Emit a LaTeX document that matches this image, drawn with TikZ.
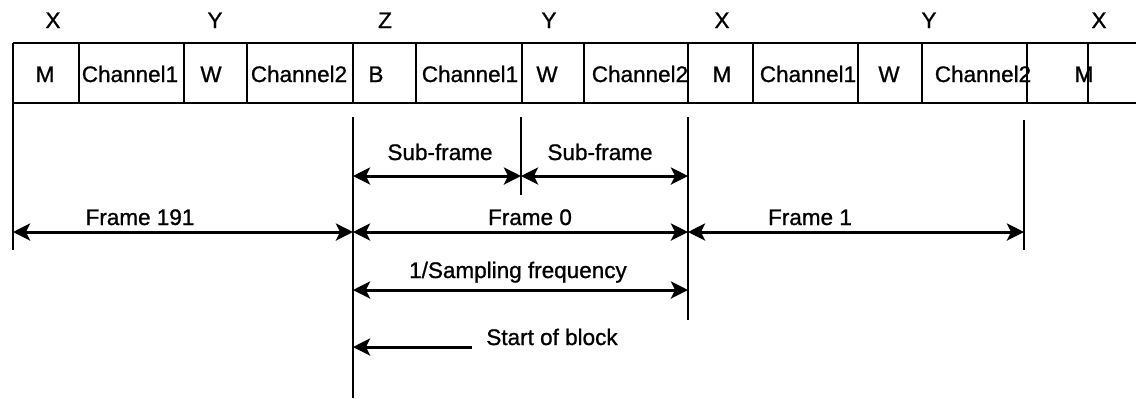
\documentclass[tikz,border=0pt]{standalone}
\usepackage{fontspec}
\setmainfont{Liberation Sans}[UprightFeatures={FakeBold=1}]
\usetikzlibrary{arrows.meta}
\begin{document}
\begin{tikzpicture}[x=0.5pt,y=-0.5pt,line width=1.3pt,
  lbl/.style={font=\fontsize{11.25}{13}\selectfont,inner sep=0pt,anchor=base},
  tip/.tip={Stealth[length=8.5pt,width=8.5pt,inset=2pt]},
  dim/.style={tip-tip,line width=1.5pt},
  one/.style={tip-,line width=1.5pt}]
\useasboundingbox (0,0) rectangle (1136,398);
% frame row
\draw (13,43) -- (1136,43);
\draw (13,103) -- (1136,103);
\foreach \x in {79,184,247,353,416,522,584,688,753,858,922,1027,1088}
  \draw (\x,43) -- (\x,103);
% top labels
\node[lbl] (tx1) at (53,28) {X};
\node[lbl] (ty1) at (215,28) {Y};
\node[lbl] (tz)  at (385,28) {Z};
\node[lbl] (ty2) at (549,28) {Y};
\node[lbl] (tx2) at (722,28) {X};
\node[lbl] (ty3) at (929,28) {Y};
\node[lbl] (tx3) at (1099,28) {X};
% cell texts
\node[lbl] (c1)  at (45,82) {M};
\node[lbl] (c2)  at (130,82) {Channel1};
\node[lbl] (c3)  at (211,82) {W};
\node[lbl] (c4)  at (299,82) {Channel2};
\node[lbl] (c5)  at (376,82) {B};
\node[lbl] (c6)  at (470,82) {Channel1};
\node[lbl] (c7)  at (547,82) {W};
\node[lbl] (c8)  at (640,82) {Channel2};
\node[lbl] (c9)  at (722,82) {M};
\node[lbl] (c10) at (808,82) {Channel1};
\node[lbl] (c11) at (889,82) {W};
\node[lbl] (c12) at (983,82) {Channel2};
\node[lbl] (c13) at (1084,82) {M};
% vertical markers
\coordinate (L0) at (13,43);   \coordinate (L0b) at (13,250);
\coordinate (A0) at (353,117); \coordinate (A0b) at (353,398);
\coordinate (S0) at (521,117); \coordinate (S0b) at (521,195);
\coordinate (B0) at (688,117); \coordinate (B0b) at (688,320);
\coordinate (C0) at (1024,120);\coordinate (C0b) at (1024,250);
\draw (L0) -- (L0b);
\draw (A0) -- (A0b);
\draw (S0) -- (S0b);
\draw (B0) -- (B0b);
\draw (C0) -- (C0b);
% sub-frame arrows
\coordinate (sf1) at (353,176); \coordinate (sf2) at (521,176); \coordinate (sf3) at (688,176);
\draw[dim] (sf1) -- (sf2);
\draw[dim] (sf2) -- (sf3);
\node[lbl] (sub1) at (440,160) {Sub-frame};
\node[lbl] (sub2) at (600,160) {Sub-frame};
% frame arrows
\coordinate (fr0) at (13,232); \coordinate (fr1) at (353,232);
\coordinate (fr2) at (688,232); \coordinate (fr3) at (1024,232);
\draw[dim] (fr0) -- (fr1);
\draw[dim] (fr1) -- (fr2);
\draw[dim] (fr2) -- (fr3);
\node[lbl] (f191) at (140,225) {Frame 191};
\node[lbl] (f0) at (530,225) {Frame 0};
\node[lbl] (f1) at (810,225) {Frame 1};
% sampling
\coordinate (sp0) at (353,290); \coordinate (sp1) at (688,290);
\draw[dim] (sp0) -- (sp1);
\node[lbl] (samp) at (518,278) {1/Sampling frequency};
% start of block
\coordinate (sb0) at (353,347); \coordinate (sb1) at (472,347);
\draw[one] (sb0) -- (sb1);
\node[lbl] (sob) at (552,345) {Start of block};
\end{tikzpicture}
\end{document}
